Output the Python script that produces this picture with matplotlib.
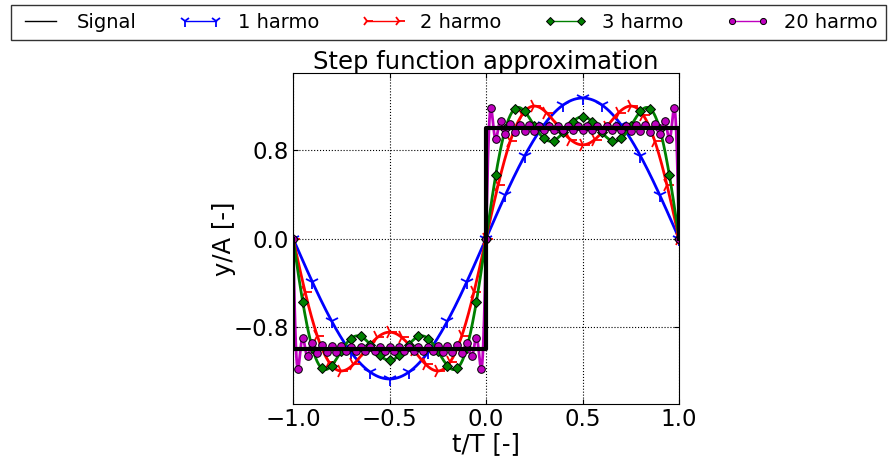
import matplotlib
matplotlib.use('Agg')
import matplotlib.pyplot as plt
from matplotlib.lines import Line2D
import numpy as np

# square wave: -1 on (-1, 0), +1 on (0, 1)
signal_t = [-1.0, -1.0, 0.0, 0.0, 1.0, 1.0]
signal_y = [0.0, -1.0, -1.0, 1.0, 1.0, 0.0]

# number of odd harmonics kept in each approximation
n_harmo = [1, 2, 3, 20]
labels = ['1 harmo', '2 harmo', '3 harmo', '20 harmo']

t = np.linspace(-1, 1, 801)


def approx(t, n):
    # Fourier series of the unit step signal, n odd terms
    y = np.zeros_like(t)
    for k in range(1, n + 1):
        m = 2 * k - 1
        y += 4.0 / (np.pi * m) * np.sin(m * np.pi * t)
    return y


fig = plt.figure(figsize=(8.88, 4.58), dpi=100)
ax = fig.add_axes([0.33, 0.1179, 0.4347, 0.7227])

styles = [
    dict(color='#0000ff', marker='1', ms=10, mew=1.3, markevery=40),
    dict(color='#ff0000', marker='4', ms=10, mew=1.3, markevery=25),
    dict(color='#008000', marker='D', ms=5, mec='k', mew=0.7, markevery=20),
    dict(color='#bf00bf', marker='o', ms=5.5, mec='k', mew=0.7, markevery=10),
]

for n, lab, st in zip(n_harmo, labels, styles):
    ax.plot(t, approx(t, n), lw=2, label=lab, **st)
ax.plot(signal_t, signal_y, 'k-', lw=3, zorder=3)

ax.set_xlim(-1, 1)
ax.set_ylim(-1.5, 1.5)
ax.set_xticks([-1.0, -0.5, 0.0, 0.5, 1.0])
ax.set_yticks([-0.8, 0.0, 0.8])
ax.tick_params(direction='in', top=True, right=True, labelsize=16.5, pad=3)
ax.grid(True, ls=':', color='k', lw=0.8)
ax.set_xlabel('t/T [-]', fontsize=17.5, labelpad=1)
ax.set_ylabel('y/A [-]', fontsize=17.5, labelpad=-2)
ax.set_title('Step function approximation', fontsize=17.5, pad=3)

# legend handles drawn thin, like the original
handles = [Line2D([], [], color='k', lw=1)]
for st in styles:
    hs = {k: v for k, v in st.items() if k != 'markevery'}
    hs['ms'] = hs['ms'] * 0.8
    handles.append(Line2D([], [], lw=1, **hs))
leg = fig.legend(handles, ['Signal'] + labels, loc='lower left', ncol=5,
                 mode='expand', bbox_to_anchor=(0.0124, 0.913, 0.985, 0.08),
                 fontsize=14, fancybox=False, numpoints=2, handlelength=2.2,
                 borderaxespad=0.0)
leg.get_frame().set_edgecolor('k')
leg.get_frame().set_linewidth(1.0)

fig.savefig('out.png', dpi=100, facecolor='white')
